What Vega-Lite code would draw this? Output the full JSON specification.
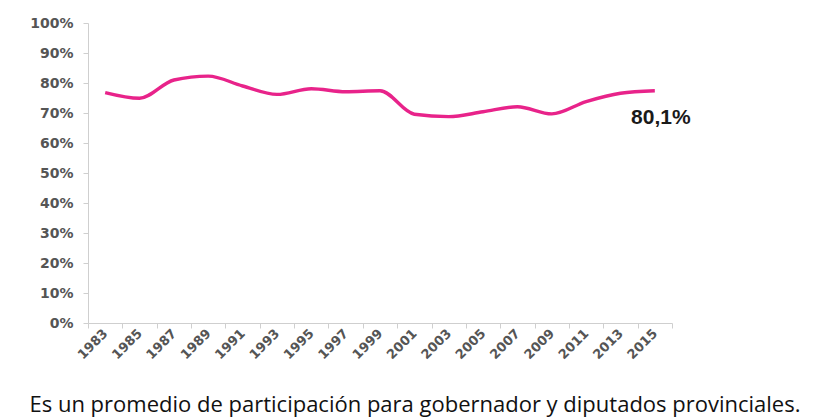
{
  "$schema": "https://vega.github.io/schema/vega-lite/v6.json",
  "autosize": "none",
  "width": 584,
  "height": 300,
  "padding": {"left": 88, "top": 23, "right": 142, "bottom": 97},
  "background": "white",
  "config": {"view": {"stroke": null}},
  "title": {
    "text": "Es un promedio de participación para gobernador y diputados provinciales.",
    "orient": "bottom",
    "anchor": "middle",
    "dx": 35,
    "offset": 33,
    "font": "Open Sans",
    "fontSize": 22,
    "fontWeight": "normal",
    "color": "#111"
  },
  "data": {
    "values": [
      {"year": "1983", "value": 76.8},
      {"year": "1985", "value": 74.9},
      {"year": "1987", "value": 81.0},
      {"year": "1989", "value": 82.3},
      {"year": "1991", "value": 79.0},
      {"year": "1993", "value": 76.2},
      {"year": "1995", "value": 78.1},
      {"year": "1997", "value": 77.1},
      {"year": "1999", "value": 77.4},
      {"year": "2001", "value": 69.6},
      {"year": "2003", "value": 68.8},
      {"year": "2005", "value": 70.4},
      {"year": "2007", "value": 72.1},
      {"year": "2009", "value": 69.7},
      {"year": "2011", "value": 73.8},
      {"year": "2013", "value": 76.6},
      {"year": "2015", "value": 77.4}
    ]
  },
  "encoding": {
    "x": {
      "field": "year",
      "type": "ordinal",
      "scale": {"paddingInner": 0, "paddingOuter": 0},
      "axis": {
        "title": null,
        "labelAngle": -45,
        "labelAlign": "right",
        "labelBaseline": "middle",
        "labelPadding": 3,
        "tickBand": "extent",
        "domainColor": "#cfcfcf",
        "tickColor": "#cfcfcf",
        "tickSize": 5,
        "labelFont": "DejaVu Sans",
        "labelFontSize": 13,
        "labelFontWeight": "bold",
        "labelColor": "#555"
      }
    },
    "y": {
      "field": "value",
      "type": "quantitative",
      "scale": {"domain": [0, 100]},
      "axis": {
        "title": null,
        "values": [0, 10, 20, 30, 40, 50, 60, 70, 80, 90, 100],
        "labelExpr": "datum.value + '%'",
        "grid": false,
        "domainColor": "#cfcfcf",
        "tickColor": "#cfcfcf",
        "tickSize": 5,
        "labelPadding": 10,
        "labelFont": "DejaVu Sans",
        "labelFontSize": 14,
        "labelFontWeight": "bold",
        "labelColor": "#555"
      }
    }
  },
  "layer": [
    {
      "mark": {"type": "line", "interpolate": "monotone", "color": "#e8238a", "strokeWidth": 3.4}
    },
    {
      "transform": [{"filter": "datum.year == '2015'"}, {"calculate": "'80,1%'", "as": "label"}],
      "mark": {"type": "text", "dy": 27, "dx": 6, "font": "Liberation Sans", "fontWeight": "bold", "fontSize": 21, "color": "#1a1a1a"},
      "encoding": {"text": {"field": "label"}}
    }
  ]
}
